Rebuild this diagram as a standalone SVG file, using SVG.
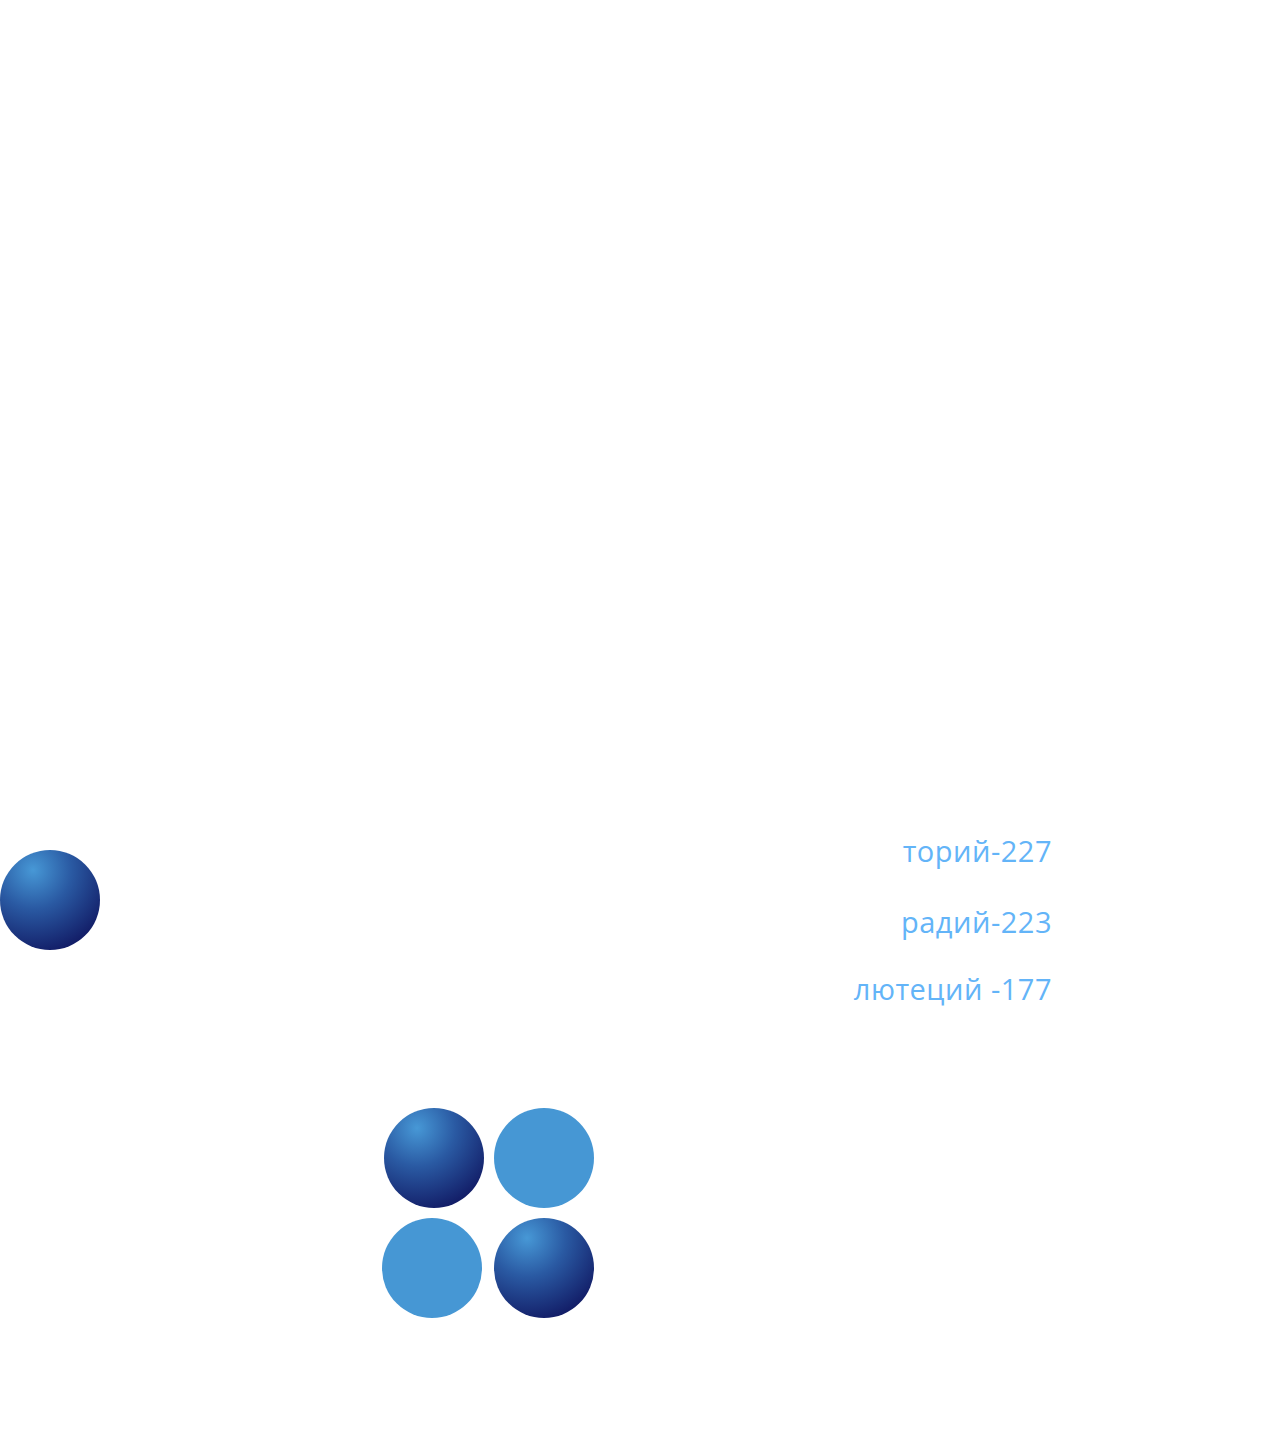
<svg xmlns="http://www.w3.org/2000/svg" width="1282" height="1456" viewBox="0 0 1282 1456">
<defs>
<radialGradient id="sphere" cx="0.33" cy="0.2" r="0.85" fx="0.33" fy="0.2" gradientUnits="objectBoundingBox">
<stop offset="0" stop-color="#4798d6"/>
<stop offset="0.45" stop-color="#2a5aa3"/>
<stop offset="1" stop-color="#121c66"/>
</radialGradient>
<style>
.lbl{font-family:"Open Sans","Noto Sans",sans-serif;font-size:29px;letter-spacing:0.5px;fill:#63b4f8;text-anchor:end}
.flat{fill:#4697d4}
.ball{fill:url(#sphere)}
</style>
</defs>
<rect width="1282" height="1456" fill="#ffffff"/>
<g id="sphere-left"><circle class="ball" cx="50" cy="900" r="50"/></g>
<g id="labels">
<text id="thorium" class="lbl" x="1052" y="862">торий-227</text>
<text id="radium" class="lbl" x="1052" y="933">радий-223</text>
<text id="lutetium" class="lbl" x="1052" y="1000">лютеций -177</text>
</g>
<g id="grid">
<circle id="c1" class="ball" cx="434" cy="1158" r="50"/>
<circle id="c2" class="flat" cx="544" cy="1158" r="50"/>
<circle id="c3" class="flat" cx="432" cy="1268" r="50"/>
<circle id="c4" class="ball" cx="544" cy="1268" r="50"/>
</g>
<g id="connectors"></g>
</svg>
